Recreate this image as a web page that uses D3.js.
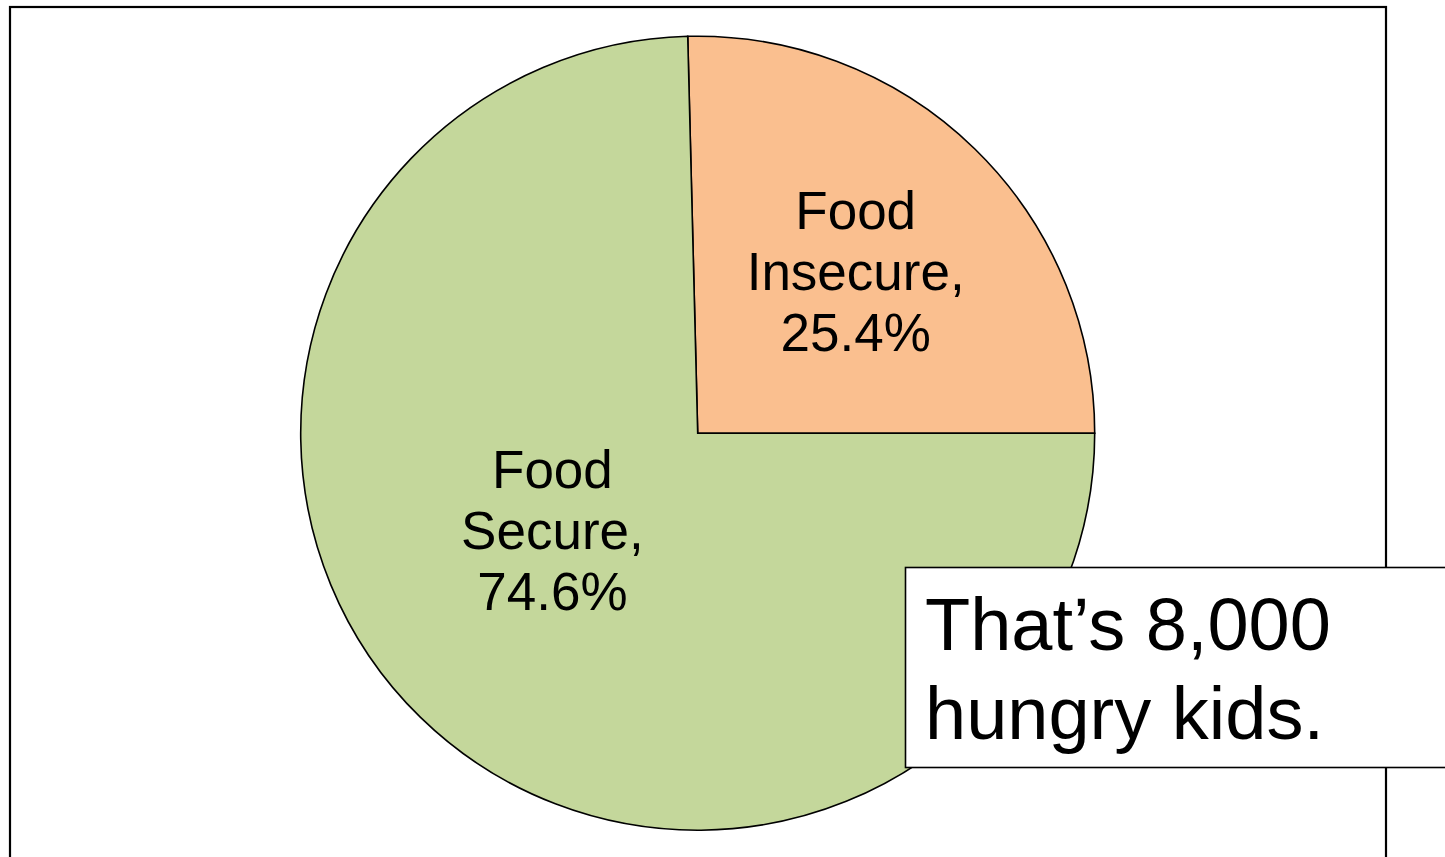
<!DOCTYPE html>
<html>
<head>
<meta charset="utf-8">
<script src="https://cdn.jsdelivr.net/npm/d3@7"></script>
<style>
  html, body { margin: 0; padding: 0; background: #ffffff; overflow: hidden; }
  svg { display: block; font-family: "Liberation Sans", Arial, Helvetica, sans-serif; }
</style>
</head>
<body>
<svg id="chart" width="1445" height="857"></svg>
<script>
// ---- data ----
const categories = ["Food Insecure", "Food Secure"];
const labelLines = [["Food", "Insecure,"], ["Food", "Secure,"]];
const values = [25.4, 74.6];
const colors = ["#FABF8F", "#C4D79B"];
const calloutLines = ["That\u2019s 8,000", "hungry kids."];

// ---- layout ----
const W = 1445, H = 857;
const cx = 697.7, cy = 433.2, R = 397;
const svg = d3.select("#chart");

// chart frame
svg.append("rect")
  .attr("x", 10).attr("y", 7)
  .attr("width", 1376).attr("height", 900)
  .attr("fill", "#ffffff")
  .attr("stroke", "#000000").attr("stroke-width", 2.2);

const total = d3.sum(values);
const startA = Math.PI / 2 - 2 * Math.PI * values[0] / total;
const pie = d3.pie().sort(null).value(d => d)
  .startAngle(startA).endAngle(startA + 2 * Math.PI);
const arcs = pie(values);
const arc = d3.arc().innerRadius(0).outerRadius(R);

const g = svg.append("g").attr("transform", `translate(${cx},${cy})`);
g.selectAll("path.slice").data(arcs).enter().append("path")
  .attr("class", "slice")
  .attr("d", arc)
  .attr("fill", (d, i) => colors[i])
  .attr("stroke", "#000000")
  .attr("stroke-width", 1.6)
  .attr("stroke-linejoin", "miter");

// label placement (layout only): radius fraction and angle nudge per slice
const labelLayout = [{ k: 0.57, da: 0 }, { k: 0.44, da: 12 * Math.PI / 180 }];
const fontSize = 53, lineH = 61;
arcs.forEach((d, i) => {
  const a = (d.startAngle + d.endAngle) / 2 + labelLayout[i].da;
  const r = R * labelLayout[i].k;
  const x = Math.sin(a) * r, y = -Math.cos(a) * r;
  const lines = labelLines[i].concat([d3.format(".1f")(values[i]) + "%"]);
  const t = g.append("text")
    .attr("text-anchor", "middle")
    .attr("font-size", fontSize)
    .attr("fill", "#000000");
  lines.forEach((ln, j) => {
    t.append("tspan")
      .attr("x", x)
      .attr("y", y + 19 + (j - 1) * lineH)
      .text(ln);
  });
});

// callout box
svg.append("rect")
  .attr("x", 905.5).attr("y", 567.5)
  .attr("width", 600).attr("height", 200)
  .attr("fill", "#ffffff")
  .attr("stroke", "#000000").attr("stroke-width", 1.6);
const ct = svg.append("text").attr("font-size", 74).attr("fill", "#000000");
calloutLines.forEach((ln, j) => {
  ct.append("tspan").attr("x", 925).attr("y", 650 + j * 89).text(ln);
});
</script>
</body>
</html>
